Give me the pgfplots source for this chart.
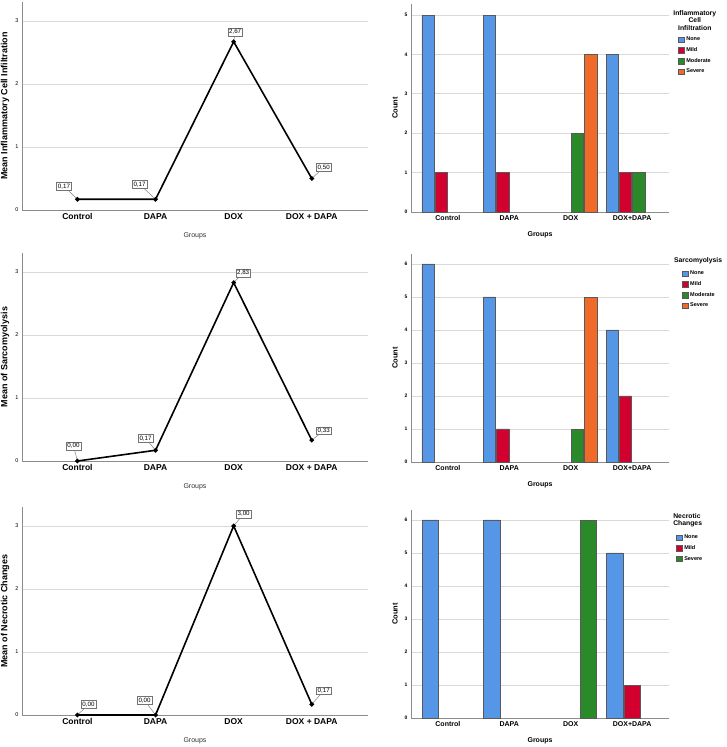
\documentclass[border=0pt]{standalone}
\usepackage{fontspec}
\setmainfont{Liberation Sans}
\usepackage{pgfplots}
\pgfplotsset{compat=1.18}

\definecolor{cNone}{HTML}{5596E6}
\definecolor{cMild}{HTML}{D2002E}
\definecolor{cMod}{HTML}{2A8A2A}
\definecolor{cSev}{HTML}{F06A2A}

% boxed value label with a leader line
\newcommand{\vlab}[5]{\draw[black!50, line width=0.5pt] (axis cs:#1,#2) -- ++(#3pt,#4pt)
  node[draw=black!55, fill=white, text=black, inner sep=1.3pt, line width=0.5pt, font=\fontsize{6.2}{7}\selectfont] {#5};}

\tikzset{ltitle/.style={font=\fontsize{6.8}{7.6}\selectfont\bfseries, inner sep=0pt}}

\pgfplotsset{
  base/.style={scale only axis, anchor=south west, axis lines*=left,
    axis line style={black!45, line width=0.6pt}, major tick length=0pt,
    ymajorgrids, grid style={black!15, line width=0.7pt}, xtick={0,1,2,3}, clip=false,
    /pgf/number format/assume math mode=true},
  linechart/.style={base, width=346pt, height=208pt, xmin=-0.71, xmax=3.72,
    ymin=0, ymax=3.3, ytick={0,1,2,3},
    xticklabels={Control,DAPA,DOX,DOX + DAPA},
    xticklabel style={font=\fontsize{8.5}{10}\selectfont\bfseries},
    yticklabel style={font=\fontsize{5.5}{6}\selectfont},
    xlabel={Groups},
    xlabel style={at={(axis description cs:0.5,-0.125)}, anchor=center,
      font=\fontsize{7}{8}\selectfont, text=black!80},
    ylabel style={at={(axis description cs:-0.049,0.5)}, anchor=center,
      font=\fontsize{9}{10}\selectfont\bfseries}},
  linestyle/.style={black, line width=1.6pt, mark=*, mark size=1.4pt},
  barchart/.style={base, width=258pt, height=208pt, xmin=-0.6, xmax=3.6,
    ymin=0, ybar=1pt,
    xticklabels={Control,DAPA,DOX,DOX+DAPA},
    xticklabel style={font=\fontsize{7}{8}\selectfont\bfseries},
    yticklabel style={font=\fontsize{5}{6}\selectfont\bfseries},
    xlabel={Groups}, ylabel={Count},
    xlabel style={at={(axis description cs:0.5,-0.11)}, anchor=center,
      font=\fontsize{7}{8}\selectfont\bfseries},
    ylabel style={at={(axis description cs:-0.062,0.5)}, anchor=center,
      font=\fontsize{7.5}{8}\selectfont\bfseries},
    legend style={draw=none, fill=none, anchor=north west, inner sep=0pt,
      font=\fontsize{5.5}{6.5}\selectfont\bfseries, row sep=1.2pt},
    legend cell align=left,
    legend image code/.code={\draw[##1,/tikz/.cd] (0pt,-2.8pt) rectangle (5.6pt,2.8pt);}},
  bNone/.style={fill=cNone, draw=black!65, line width=0.5pt},
  bMild/.style={fill=cMild, draw=black!65, line width=0.5pt},
  bMod/.style={fill=cMod, draw=black!65, line width=0.5pt},
  bSev/.style={fill=cSev, draw=black!65, line width=0.5pt},
}

\begin{document}
\begin{tikzpicture}
\useasboundingbox (0pt,0pt) rectangle (726pt,747pt);

% ---------- row 1 ----------
\begin{axis}[linechart, at={(22pt,537pt)}, ylabel={Mean Inflammatory Cell Infiltration}]
\addplot[linestyle] coordinates {(0,0.17) (1,0.17) (2,2.67) (3,0.50)};
\vlab{0}{0.17}{-13.5}{13}{0,17}
\vlab{1}{0.17}{-16}{15}{0,17}
\vlab{2}{2.67}{1.5}{9.5}{2,67}
\vlab{3}{0.50}{12}{11}{0,50}
\end{axis}

\begin{axis}[barchart, at={(411pt,535pt)}, ymax=5.28, ytick={0,1,2,3,4,5}, bar width=0.2,
  legend style={at={(rel axis cs:1.035,0.851)}}]
\addplot[bNone] coordinates {(0,5) (1,5) (3,4)};
\addplot[bMild] coordinates {(0,1) (1,1) (3,1)};
\addplot[bMod] coordinates {(2,2) (3,1)};
\addplot[bSev] coordinates {(2,4)};
\legend{None,Mild,Moderate,Severe}
\node[ltitle, align=center, anchor=north] at (rel axis cs:1.10,0.97) {Inflammatory\\Cell\\Infiltration};
\end{axis}

% ---------- row 2 ----------
\begin{axis}[linechart, at={(22pt,286pt)}, ylabel={Mean of Sarcomyolysis}]
\addplot[linestyle] coordinates {(0,0) (1,0.17) (2,2.83) (3,0.33)};
\vlab{0}{0}{-4}{15}{0,00}
\vlab{1}{0.17}{-10}{12}{0,17}
\vlab{2}{2.83}{9.5}{9.5}{2,83}
\vlab{3}{0.33}{12}{9.5}{0,33}
\end{axis}

\begin{axis}[barchart, at={(411pt,285pt)}, ymax=6.3, ytick={0,1,2,3,4,5,6}, bar width=0.2,
  legend style={at={(rel axis cs:1.05,0.928)}}]
\addplot[bNone] coordinates {(0,6) (1,5) (3,4)};
\addplot[bMild] coordinates {(1,1) (3,2)};
\addplot[bMod] coordinates {(2,1)};
\addplot[bSev] coordinates {(2,5)};
\legend{None,Mild,Moderate,Severe}
\node[ltitle, anchor=west] at (rel axis cs:1.019,0.966) {Sarcomyolysis};
\end{axis}

% ---------- row 3 ----------
\begin{axis}[linechart, at={(22pt,32pt)}, ylabel={Mean of Necrotic Changes}]
\addplot[linestyle] coordinates {(0,0) (1,0) (2,3) (3,0.17)};
\vlab{0}{0}{11}{10.5}{0,00}
\vlab{1}{0}{-11}{14.5}{0,00}
\vlab{2}{3}{10}{12}{3,00}
\vlab{3}{0.17}{12}{13.5}{0,17}
\end{axis}

\begin{axis}[barchart, at={(411pt,29pt)}, ymax=6.3, ytick={0,1,2,3,4,5,6}, bar width=0.267,
  legend style={at={(rel axis cs:1.027,0.89)}}]
\addplot[bNone] coordinates {(0,6) (1,6) (3,5)};
\addplot[bMild] coordinates {(3,1)};
\addplot[bMod] coordinates {(2,6)};
\legend{None,Mild,Severe}
\node[ltitle, align=left, anchor=north west] at (rel axis cs:1.016,0.986) {Necrotic\\Changes};
\end{axis}

\end{tikzpicture}
\end{document}
